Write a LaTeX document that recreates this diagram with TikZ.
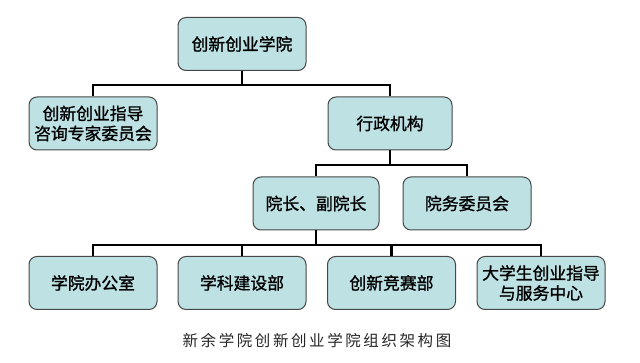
\documentclass[tikz,border=0pt]{standalone}
\usepackage{fontspec}
\newfontfamily\cjk{Noto Sans CJK SC}
\newfontfamily\cjkb[FakeBold=1.2]{Noto Sans CJK SC}
\usepackage{xcolor}
\usepackage{tikz}
\usetikzlibrary{positioning, calc}
\definecolor{boxfill}{RGB}{190,226,228}
\definecolor{boxline}{RGB}{70,70,70}
\tikzset{
  unit/.style={rectangle, draw=boxline, line width=1pt, fill=boxfill, rounded corners=8pt,
               minimum width=128pt, minimum height=53pt, align=center,
               font=\cjkb\fontsize{16.8}{20}\selectfont, inner sep=2pt},
  conn/.style={line width=2.4pt, black},
  caption/.style={font=\cjk\fontsize{15.5}{18}\selectfont, text=black!85},
}
\begin{document}
\begin{tikzpicture}[x=1pt, y=-1pt]
  \useasboundingbox (0,0) rectangle (640,363);

  % Top
  \node (college) at (242,44) [unit] {创新创业学院};

  % Second level
  \node (expert) at (93,123.5) [unit] {创新创业指导\\咨询专家委员会};
  \node (admin) at (390,123.5) [unit, minimum width=124pt] {行政机构};

  % Third level
  \node (dean) at (316,203.5) [unit, minimum width=126pt] {院长、副院长};
  \node (council) at (467,203.5) [unit] {院务委员会};

  % Bottom level
  \node (office) at (93,283) [unit] {学院办公室};
  \node (subject) at (242,283) [unit] {学科建设部};
  \node (contest) at (391.5,283) [unit] {创新竞赛部};
  \node (service) at (541,283) [unit] {大学生创业指导\\与服务中心};

  % Caption
  \node (title) at (317,341) [caption] {新\,余\,学\,院\,创\,新\,创\,业\,学\,院\,组\,织\,架\,构\,图};

  % Buses
  \coordinate (bus1) at (college.south |- 0,85);
  \coordinate (bus2) at (admin.south |- 0,165);
  \coordinate (bus3) at (dean.south |- 0,245);

  % Connectors
  \draw[conn] (college.south) -- (bus1);
  \draw[conn] (expert.north) |- (bus1) -| (admin.north);
  \draw[conn] (admin.south) -- (bus2);
  \draw[conn] (dean.north) |- (bus2) -| (council.north);
  \draw[conn] (dean.south) -- (bus3);
  \draw[conn] (office.north) |- (bus3) -| (service.north);
  \draw[conn] (subject.north) -- (subject.north |- bus3);
  \draw[conn] (contest.north) -- (contest.north |- bus3);

\end{tikzpicture}
\end{document}
